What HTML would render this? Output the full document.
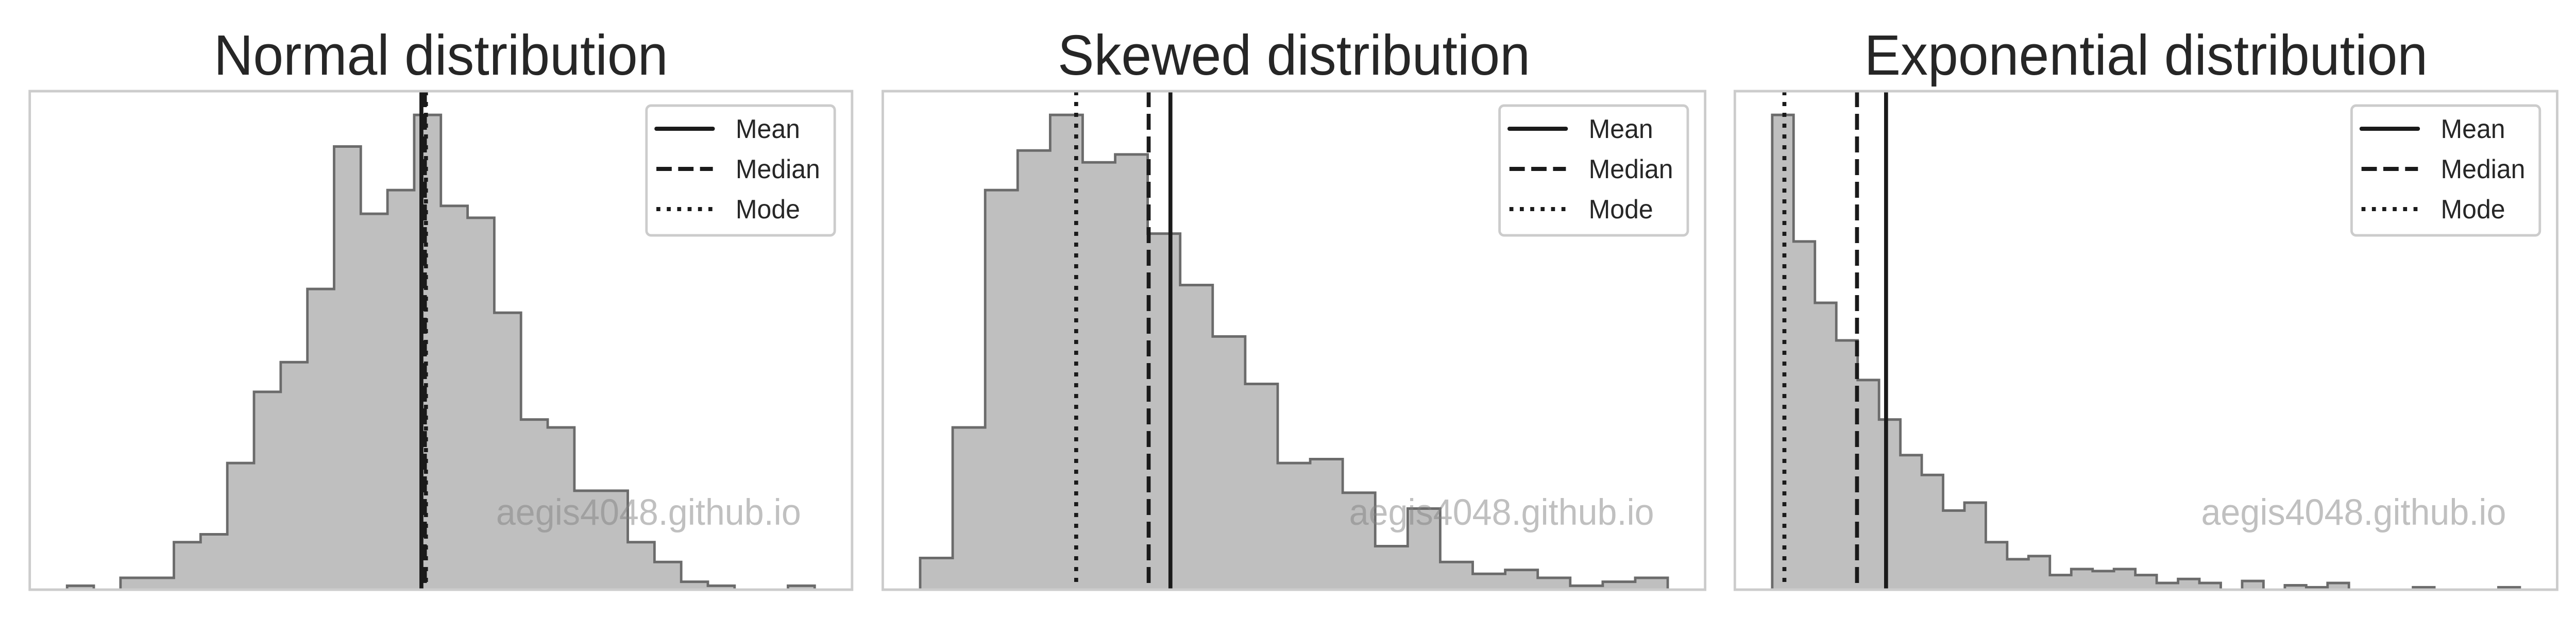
<!DOCTYPE html>
<html><head><meta charset="utf-8">
<style>
html,body{margin:0;padding:0;background:#fff;overflow:hidden;width:100%;height:100%;}
svg{display:block;font-family:"Liberation Sans",Arial,sans-serif;width:100vw;height:100vh;}
</style></head>
<body>
<svg id="fig" viewBox="0 0 5200 1200" preserveAspectRatio="none" xmlns="http://www.w3.org/2000/svg"></svg>
<script>
// ---- data ----
const titles = ["Normal distribution", "Skewed distribution", "Exponential distribution"];
const normalCounts = [1,0,3,3,12,14,32,50,57.5,76,112,95,101,120,97,94,70,43,41,25,25,12,7,2,1,0,0,1];
const skewedCounts = [8,41,101,111,120,108,110,90,77,64,52,32,33,24.5,11,20.5,7,4,5,3,1,2,3];
const exponentialCounts = [120,88,72.5,63,53,43,34,29,20,22,12,7.7,8.5,3.7,5.2,4.7,5.2,3.7,1.7,2.7,1.7,0,2.2,0,1.1,0.6,1.7,0,0,0,0.6,0,0,0,0.6];
// stat positions in bin-index units
const meanVals = [13.27, 7.70, 5.33];
const medianVals = [13.40, 7.03, 3.97];
const modeVals = [13.44, 4.80, 0.57];
const legendLabels = ["Mean", "Median", "Mode"];
const watermark = "aegis4048.github.io";

const allCounts = [normalCounts, skewedCounts, exponentialCounts];
const NS = "http://www.w3.org/2000/svg";
const svg = document.getElementById("fig");
function mk(tag, attrs, parent){
  const e = document.createElementNS(NS, tag);
  for (const k in attrs) e.setAttribute(k, attrs[k]);
  (parent||svg).appendChild(e);
  return e;
}
const panelLefts = [60, 1782, 3502];
const PW = 1660, PT = 177, PB = 1145;
const slugs = ["normal", "skewed", "exponential"];
const dashes = [null, "31,13", "8,13"];

for (let p = 0; p < 3; p++) {
  const counts = allCounts[p];
  const n = counts.length;
  const L = panelLefts[p], R = L + PW;
  const g = mk("g", {});
  
  
  const xmin = -0.05 * n, xmax = n + 0.05 * n;
  const xs = v => L + (v - xmin) / (xmax - xmin) * PW;
  const ymax = Math.max(...counts) * 1.05;
  const ys = v => PB - v / ymax * (PB - PT);

  const t = mk("text", {x: L + PW/2, y: 145, "text-anchor": "middle", "font-size": 110, fill: "#262626"}, g);
  t.textContent = titles[p];
  
  

  let d = "M" + xs(0) + "," + ys(0);
  for (let i = 0; i < n; i++) {
    d += " L" + xs(i) + "," + ys(counts[i]) + " L" + xs(i+1) + "," + ys(counts[i]);
  }
  d += " L" + xs(n) + "," + ys(0);
  const fill = mk("path", {d: d + " Z", fill: "#bfbfbf", stroke: "none"}, g);
  
  
  const outline = mk("path", {d: d, fill: "none", stroke: "#6b6b6b", "stroke-width": 5, "stroke-linejoin": "miter"}, g);
  
  

  const w = mk("text", {x: R - 103, y: 1019, "text-anchor": "end", "font-size": 71, fill: "rgba(130,130,130,0.5)"}, g);
  w.textContent = watermark;
  
  

  const vals = [meanVals[p], medianVals[p], modeVals[p]];
  const statNames = ["mean-line", "median-line", "mode-line"];
  for (let k = 0; k < 3; k++) {
    const attrs = {x1: xs(vals[k]), x2: xs(vals[k]), y1: PT, y2: PB, stroke: "#1a1a1a", "stroke-width": 8};
    if (dashes[k]) attrs["stroke-dasharray"] = dashes[k];
    const ln = mk("line", attrs, g);
    
    
  }

  const fr = mk("rect", {x: L, y: PT, width: PW, height: PB - PT, fill: "none", stroke: "#cccccc", "stroke-width": 5}, g);
  
  

  const lg = mk("g", {}, g);
  
  
  const bx = R - 415;
  mk("rect", {x: bx, y: 205, width: 380, height: 252, rx: 9, fill: "rgba(255,255,255,0.85)", stroke: "#cccccc", "stroke-width": 5}, lg);
  for (let k = 0; k < 3; k++) {
    const yy = 250 + k * 78;
    const e = mk("g", {}, lg);
    
    
    const attrs = {x1: bx + 20, x2: bx + 134, y1: yy, y2: yy, stroke: "#1a1a1a", "stroke-width": 8};
    if (dashes[k]) attrs["stroke-dasharray"] = dashes[k];
    if (k === 0) attrs["stroke-linecap"] = "round";
    mk("line", attrs, e);
    const tx = mk("text", {x: bx + 180, y: yy + 18, "font-size": 52, fill: "#262626"}, e);
    tx.textContent = legendLabels[k];
  }
}
</script>
</body></html>
